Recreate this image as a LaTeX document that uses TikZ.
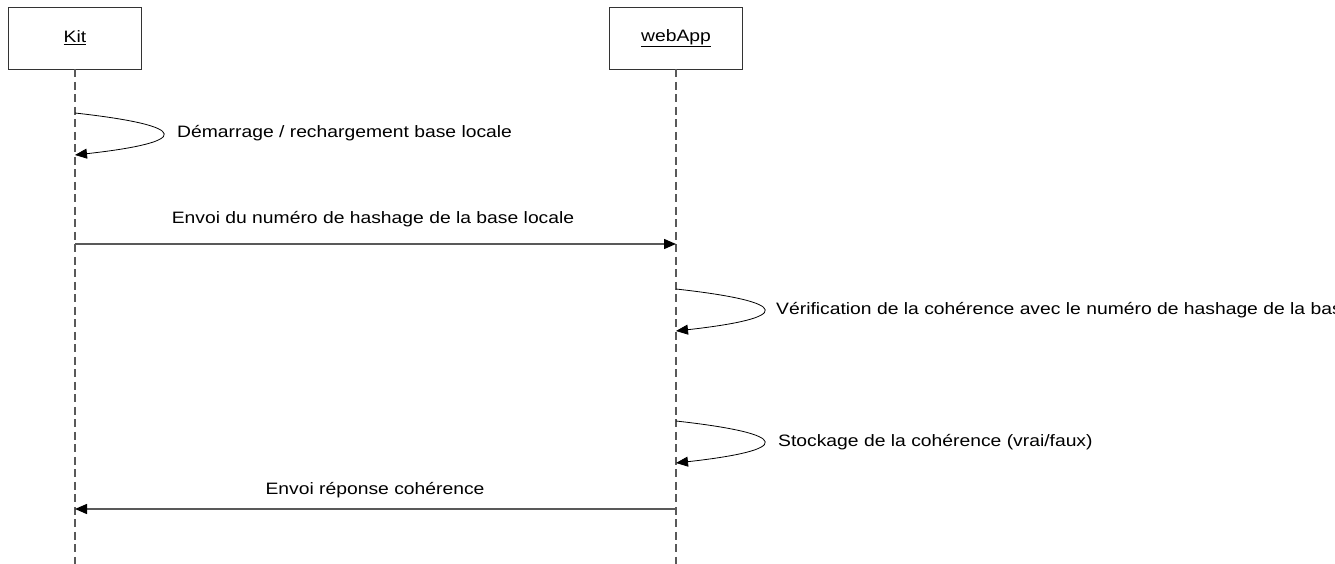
\documentclass[tikz,border=0pt]{standalone}
\usepackage{fontspec}
\setmainfont{Liberation Sans}[FakeStretch=1.17]
\usetikzlibrary{arrows.meta}
\begin{document}
\begin{tikzpicture}[x=1pt,y=-1pt,
  every node/.style={font=\fontsize{16.5}{20}\selectfont, inner sep=0pt},
  actor/.style={draw=black!80, line width=0.8pt, minimum width=133pt, minimum height=62pt, fill=white},
  lifeline/.style={draw=black!65, line width=1.3pt, dash pattern=on 8pt off 4.5pt},
  msg/.style={draw=black!65, line width=1.4pt, -{Triangle[length=12pt,width=10pt,fill=black,color=black]}},
  selfmsg/.style={draw=black, line width=0.8pt, -{Triangle[length=12pt,width=10pt,fill=black,color=black]}},
  lbl/.style={anchor=center, text=black}]
\useasboundingbox (0,0) rectangle (1335,564);
\node[actor] (kit) at (75,38) {\underline{Kit}};
\node[actor] (web) at (676,38) {\underline{webApp}};
\coordinate (kitend) at (75,564);
\coordinate (webend) at (676,564);
\draw[lifeline] (kit.south) -- (kitend);
\draw[lifeline] (web.south) -- (webend);
% self message 1
\coordinate (s1a) at (75,113);
\coordinate (s1b) at (75,155);
\draw[selfmsg] (s1a) .. controls (192,126) and (192,142) .. (s1b);
\node[anchor=west] (l1) at (177,133) {Démarrage / rechargement base locale};
% message 2
\coordinate (m2a) at (75,244);
\coordinate (m2b) at (676,244);
\draw[msg] (m2a) -- (m2b);
\node[lbl] (l2) at (373,219) {Envoi du numéro de hashage de la base locale};
% self message 3
\coordinate (s3a) at (676,289);
\coordinate (s3b) at (676,331);
\draw[selfmsg] (s3a) .. controls (793,302) and (793,318) .. (s3b);
\node[anchor=west] (l3) at (776,310) {Vérification de la cohérence avec le numéro de hashage de la base locale};
% self message 4
\coordinate (s4a) at (676,421);
\coordinate (s4b) at (676,463);
\draw[selfmsg] (s4a) .. controls (793,434) and (793,450) .. (s4b);
\node[anchor=west] (l4) at (778,442) {Stockage de la cohérence (vrai/faux)};
% return message
\coordinate (m5a) at (676,509);
\coordinate (m5b) at (75,509);
\draw[msg] (m5a) -- (m5b);
\node[lbl] (l5) at (375,490) {Envoi réponse cohérence};
\end{tikzpicture}
\end{document}
